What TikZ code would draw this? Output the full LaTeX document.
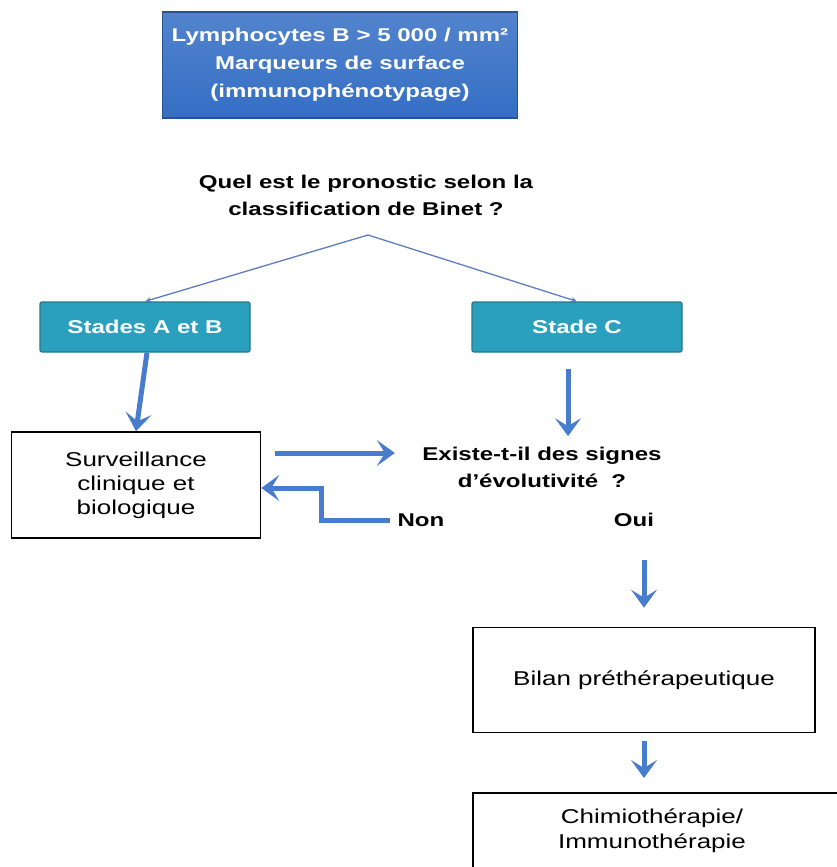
\documentclass[tikz,border=0pt]{standalone}
\usepackage{fontspec}
\setmainfont{Liberation Sans}[FakeStretch=1.3]
\usetikzlibrary{arrows.meta,positioning}
\definecolor{headblue}{RGB}{52,110,196}
\definecolor{stadeteal}{RGB}{43,160,190}
\definecolor{arrowblue}{RGB}{72,125,205}
\definecolor{lineblue}{RGB}{95,125,190}

\begin{document}
\begin{tikzpicture}[x=1pt,y=-1pt,
    bluebox/.style={draw=headblue!75!black,line width=1.2pt,top color=headblue!85!white,bottom color=headblue,text=white,
      font=\bfseries\fontsize{18.5}{28}\selectfont,align=center,
      minimum width=355pt,minimum height=106pt},
    stadebox/.style={draw=stadeteal!75!black,line width=1.2pt,fill=stadeteal,text=white,rounded corners=2pt,
      font=\bfseries\fontsize{18.5}{22}\selectfont,minimum width=210pt,minimum height=50pt},
    whitebox/.style={draw,line width=1.6pt,align=center,font=\fontsize{20}{24}\selectfont},
    asktext/.style={font=\bfseries\fontsize{18.5}{27}\selectfont,align=center},
    bigarrow/.style={draw=arrowblue,line width=5pt,-{Stealth[length=18pt,width=26pt,inset=8pt]}},
    thinarrow/.style={draw=lineblue,line width=1.3pt,-{Stealth[length=6pt,width=5pt]}}]
  \useasboundingbox (0,0) rectangle (837,867);
  \clip (0,0) rectangle (837,867);
  \node[bluebox] (lympho) at (340,65) {Lymphocytes B > 5 000 / mm²\\Marqueurs de surface\\(immunophénotypage)};
  \node[asktext] (binet) at (366,195) {Quel est le pronostic selon la\\classification de Binet ?};
  \coordinate (apex) at (368,235);
  \node[stadebox] (stadeAB) at (145,327) {Stades A et B};
  \node[stadebox] (stadeC) at (577,327) {Stade C};
  \node[whitebox,minimum width=249pt,minimum height=106pt] (surv) at (136,485) {Surveillance\\clinique et\\biologique};
  \node[asktext] (signes) at (542,467) {Existe-t-il des signes\\d'évolutivité ~?};
  \node[asktext] (non) at (421,520) {Non};
  \node[asktext] (oui) at (634,520) {Oui};
  \node[whitebox,minimum width=342pt,minimum height=105pt] (bilan) at (644,680) {Bilan préthérapeutique};
  \coordinate (chimiocorner) at (473,793);
  \draw[line width=1.6pt] (chimiocorner) rectangle ++(420,120);
  \node[font=\fontsize{20}{25}\selectfont,align=center] (chimio) at (652,831) {Chimiothérapie/\\Immunothérapie};
  \draw[thinarrow] (apex) -- (stadeAB.north);
  \draw[thinarrow] (apex) -- (stadeC.north);
  \draw[bigarrow] ([xshift=2pt]stadeAB.south) -- (surv.north);
  \draw[bigarrow,shorten <=16pt,shorten >=7pt] ([xshift=-9pt]stadeC.south) -- ([xshift=-9pt]stadeC.south |- signes.north);
  \draw[bigarrow,shorten <=14pt,shorten >=24pt] ([yshift=32pt]surv.east) -- ([yshift=32pt]surv.east -| signes.west);
  \draw[bigarrow,shorten <=4pt] (non.west) -- ++(-73,0) |- ([yshift=-3pt]surv.east);
  \draw[bigarrow,shorten <=30pt,shorten >=19pt] (bilan.north |- oui.south) -- (bilan.north);
  \draw[bigarrow,shorten <=8pt,shorten >=15pt] (bilan.south) -- (bilan.south |- chimiocorner);
\end{tikzpicture}
\end{document}
